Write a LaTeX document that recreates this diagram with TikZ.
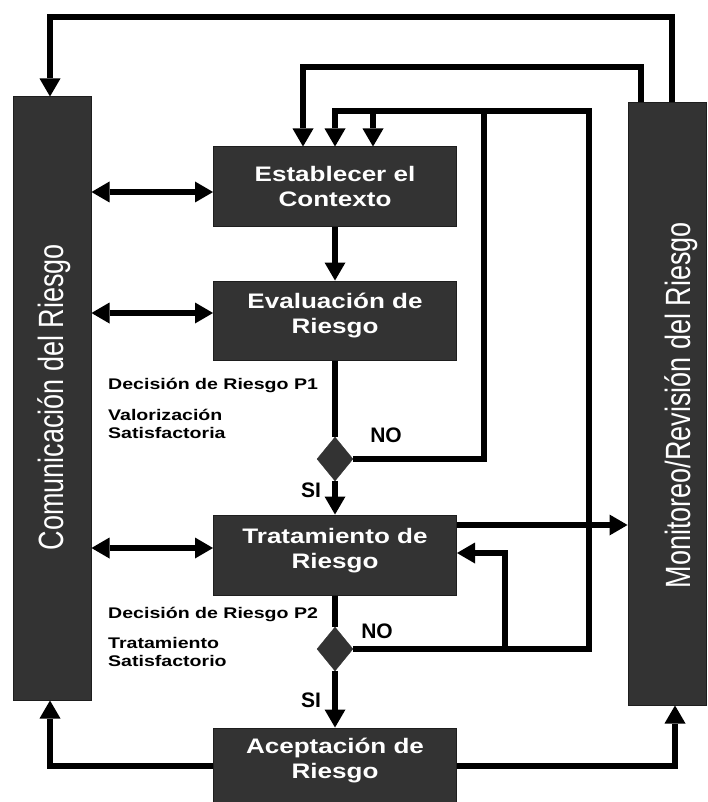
\documentclass[tikz,border=0pt]{standalone}
\usepackage{fontspec}
\setmainfont{Liberation Sans}
\usepackage{graphicx}
\usetikzlibrary{arrows.meta,shapes.geometric}
\newcommand\hstr[2]{\scalebox{#1}[1]{#2}}
\newcommand\vstr[2]{\scalebox{1}[#1]{#2}}
\definecolor{boxgray}{HTML}{333333}
\definecolor{edgegray}{HTML}{1E1E1E}
\begin{document}
\begin{tikzpicture}[x=1pt,y=-1pt,
  box/.style={draw=edgegray, line width=1pt, fill=boxgray, inner sep=0pt, minimum width=243pt},
  plainbox/.style={draw=edgegray, line width=1pt, fill=boxgray, inner sep=0pt},
  boxtext/.style={text=white, font=\fontsize{21}{25}\selectfont\bfseries, inner sep=0pt, anchor=base},
  dec/.style={diamond, fill=boxgray, draw=boxgray, inner sep=0pt, minimum width=36pt, minimum height=44pt},
  conn/.style={line width=5.5pt, draw=black},
  arr/.style={conn, -{Triangle[width=21pt,length=18pt,line width=0pt]}},
  darr/.style={conn, {Triangle[width=21pt,length=18pt,line width=0pt]}-{Triangle[width=21pt,length=18pt,line width=0pt]}},
  lbl/.style={font=\fontsize{15.4}{18}\selectfont\bfseries, inner sep=0pt, anchor=base west},
  yn/.style={font=\fontsize{21}{25}\selectfont\bfseries, inner sep=0pt},
  side/.style={text=white, font=\fontsize{27}{30}\selectfont, rotate=90, inner sep=0pt, anchor=base}
]
\useasboundingbox (0,0) rectangle (707,802);

% side boxes
\node[plainbox, minimum width=78pt, minimum height=603pt] (L) at (52,398.5) {};
\node[plainbox, minimum width=78pt, minimum height=602pt] (R) at (667,404) {};
\node[side] (Lt) at (63,397) {\vstr{1.3}{Comunicación del Riesgo}};
\node[side] (Rt) at (690,405) {\vstr{1.3}{Monitoreo/Revisión del Riesgo}};

% central boxes
\node[box, minimum height=80pt] (E) at (335,187) {};
\node[box, minimum height=79pt] (V) at (335,320.5) {};
\node[box, minimum height=80pt] (T) at (335,555) {};
\node[box, minimum height=80pt] (A) at (335,768) {};

\node[boxtext] (Et1) at (335,182) {\hstr{1.24}{Establecer el}};
\node[boxtext] (Et2) at (335,207) {\hstr{1.24}{Contexto}};
\node[boxtext] (Vt1) at (335,308) {\hstr{1.24}{Evaluación de}};
\node[boxtext] (Vt2) at (335,333) {\hstr{1.24}{Riesgo}};
\node[boxtext] (Tt1) at (335,543) {\hstr{1.24}{Tratamiento de}};
\node[boxtext] (Tt2) at (335,568) {\hstr{1.24}{Riesgo}};
\node[boxtext] (At1) at (335,753) {\hstr{1.24}{Aceptación de}};
\node[boxtext] (At2) at (335,778) {\hstr{1.24}{Riesgo}};

% decisions
\node[dec] (D1) at (335,459) {};
\node[dec] (D2) at (335,649) {};

% junction coordinates
\coordinate (j1) at (484,111);
\coordinate (j2) at (373,111);
\coordinate (j3) at (589,111);
\coordinate (j4) at (505,649);
\coordinate (j5) at (505,553);
\coordinate (c1) at (50,766);
\coordinate (c2) at (675,766);
\coordinate (c3) at (672,17);
\coordinate (c4) at (50,17);
\coordinate (c5) at (641,67);
\coordinate (c6) at (303,67);

% double arrows to communication
\draw[darr] (L.east |- 0,192) -- (E.west |- 0,192);
\draw[darr] (L.east |- 0,313) -- (V.west |- 0,313);
\draw[darr] (L.east |- 0,548) -- (T.west |- 0,548);

% main flow
\draw[arr] (E.south) -- (V.north);
\draw[conn] (V.south) -- (D1.north);
\draw[arr] (D1.south) -- (T.north);
\draw[conn] (T.south) -- (D2.north);
\draw[arr] (D2.south) -- (A.north);

% NO loops
\draw[arr] (D1.east) -- (D1.east -| j1) -- (j1) -- (j1 -| E.north) -- (E.north);
\draw[arr] (j2) -- (j2 |- E.north);
\draw[conn] (D2.east) -- (D2.east -| j3) -- (j3) -- (j1);
\draw[arr] (j4) -- (j5) -- (j5 -| T.east);

% to monitoring
\draw[arr] (T.east |- 0,525) -- (R.west |- 0,525);

% acceptance returns
\draw[arr] (A.west |- c1) -- (c1) -- (c1 |- L.south);
\draw[arr] (A.east |- c2) -- (c2) -- (c2 |- R.south);

% monitoring feedback
\draw[arr] (c3 |- R.north) -- (c3) -- (c4) -- (c4 |- L.north);
\draw[arr] (c5 |- R.north) -- (c5) -- (c6) -- (c6 |- E.north);

% labels
\node[yn] (no1) at (386,435) {NO};
\node[yn] (si1) at (311,490) {SI};
\node[yn] (no2) at (377,631) {NO};
\node[yn] (si2) at (311,700) {SI};

\node[lbl] (p1) at (108,389) {\hstr{1.27}{Decisión de Riesgo P1}};
\node[lbl] (p1a) at (108,420) {\hstr{1.27}{Valorización}};
\node[lbl] (p1b) at (108,438) {\hstr{1.27}{Satisfactoria}};
\node[lbl] (p2) at (108,618) {\hstr{1.27}{Decisión de Riesgo P2}};
\node[lbl] (p2a) at (108,648) {\hstr{1.27}{Tratamiento}};
\node[lbl] (p2b) at (108,666) {\hstr{1.27}{Satisfactorio}};
\end{tikzpicture}
\end{document}
